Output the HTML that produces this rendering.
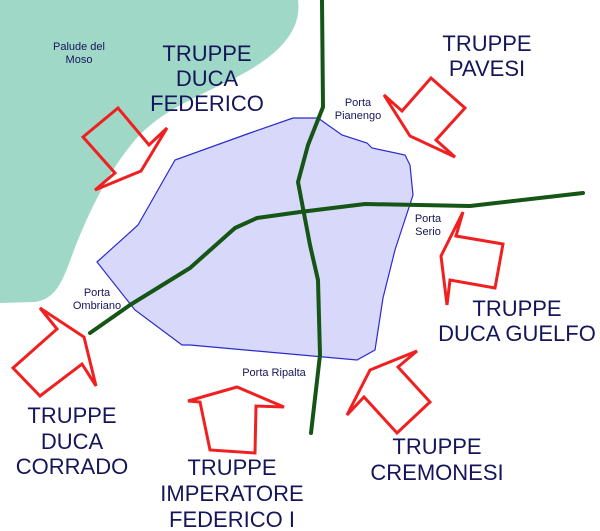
<!DOCTYPE html>
<html><head><meta charset="utf-8"><style>
html,body{margin:0;padding:0;background:#fff;}
svg{display:block;}
.b{font-family:"Liberation Sans",sans-serif;font-size:22px;fill:#15155a;text-anchor:middle;}
.s{font-family:"Liberation Sans",sans-serif;font-size:11px;fill:#15155a;text-anchor:middle;}
.r{fill:none;stroke:#f02020;stroke-width:3;stroke-linejoin:miter;}
.g{fill:none;stroke:#155515;stroke-width:4;stroke-linejoin:round;stroke-linecap:round;}
</style></head><body>
<svg width="600" height="531" viewBox="0 0 600 531" xmlns="http://www.w3.org/2000/svg">
<path d="M0,0 L298,0 C302,30 280,55 235,78 C190,100 160,112 135,140 C110,170 95,200 80,235 C65,270 62,298 35,302 L0,303 Z" fill="#a0d8c8"/>
<polygon points="293,118 318,118 342,135 367,143 372,148 405,155 410,165 413,195 395,250 383,298 375,350 357,360 190,345 182,345 135,310 97,262 138,225 175,160 250,133" fill="#d8d8fa" stroke="#2a2ad0" stroke-width="1.2"/>
<polyline class="g" points="322,0 323,107 308,145 298,182 310,245 318,280 320,355 311,433"/>
<polyline class="g" points="583,193 470,206 365,204 300,212 257,218 235,228 190,268 130,305 90,333"/>
<polygon class="r" points="118,108 83,137 115,173 95,190 141,171 167,128 149,145"/>
<polygon class="r" points="431,78 465,108 436,140 455,157 410,136 384,95 402,111"/>
<polygon class="r" points="463,212 456,236 503,244 495,288 450,280 447,305 441,256"/>
<polygon class="r" points="40,308 57,329 13,368 40,396 82,364 96,386 84,337"/>
<polygon class="r" points="188,401 237,387 284,407 256,406 255,453 210,450 200,402"/>
<polygon class="r" points="347,415 364,397 397,433 430,402 398,367 417,351 370,370"/>
<text class="s" x="79" y="50">Palude del</text>
<text class="s" x="79" y="63">Moso</text>
<text class="s" x="358" y="106">Porta</text>
<text class="s" x="358" y="119">Pianengo</text>
<text class="s" x="428" y="222">Porta</text>
<text class="s" x="428" y="235">Serio</text>
<text class="s" x="97" y="296">Porta</text>
<text class="s" x="97" y="309">Ombriano</text>
<text class="s" x="274" y="376">Porta Ripalta</text>
<text class="b" x="207" y="61">TRUPPE</text>
<text class="b" x="207" y="86">DUCA</text>
<text class="b" x="207" y="111">FEDERICO</text>
<text class="b" x="487" y="51">TRUPPE</text>
<text class="b" x="487" y="76">PAVESI</text>
<text class="b" x="517" y="316">TRUPPE</text>
<text class="b" x="517" y="341">DUCA GUELFO</text>
<text class="b" x="72" y="423">TRUPPE</text>
<text class="b" x="72" y="449">DUCA</text>
<text class="b" x="72" y="474">CORRADO</text>
<text class="b" x="232" y="475">TRUPPE</text>
<text class="b" x="232" y="501">IMPERATORE</text>
<text class="b" x="232" y="527">FEDERICO I</text>
<text class="b" x="437" y="454">TRUPPE</text>
<text class="b" x="437" y="480">CREMONESI</text>
</svg>
</body></html>
